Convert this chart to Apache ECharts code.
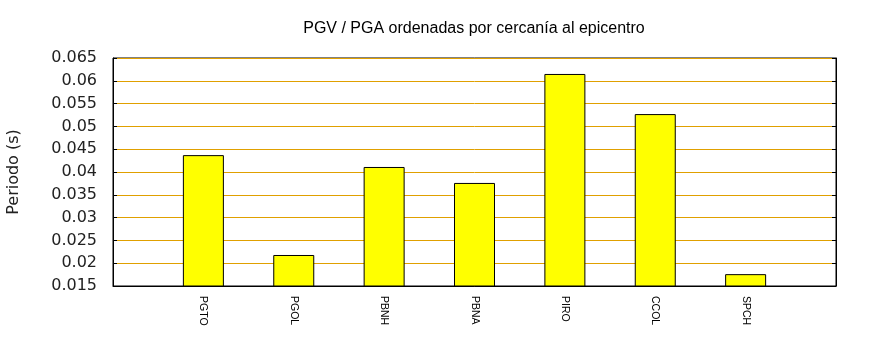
<!DOCTYPE html>
<html>
<head>
<meta charset="utf-8">
<script src="https://cdn.jsdelivr.net/npm/echarts@6/dist/echarts.min.js"></script>
<style>
  html, body { margin: 0; padding: 0; background: #fff; }
  #chart { width: 870px; height: 350px; }
</style>
</head>
<body>
<div id="chart"></div>
<script>
// Stations sorted by distance to the epicentre
const categories = ['PGTO', 'PGOL', 'PBNH', 'PBNA', 'PIRO', 'CCOL', 'SPCH'];
const periods = [0.0437, 0.0218, 0.0411, 0.0376, 0.0615, 0.0527, 0.0176];
const yTicks = [0.015, 0.02, 0.025, 0.03, 0.035, 0.04, 0.045, 0.05, 0.055, 0.06, 0.065];

const chart = echarts.init(document.getElementById('chart'), null, { renderer: 'canvas' });

const yMin = yTicks[0];
const yMax = yTicks[yTicks.length - 1];
const yStep = 0.005;

const fmtY = v => String(parseFloat(v.toFixed(3)));
const gridColor = '#e0a000';

chart.setOption({
  animation: false,
  backgroundColor: '#ffffff',
  title: {
    text: 'PGV / PGA ordenadas por cercanía al epicentro',
    left: 469,
    top: 16,
    textAlign: 'center',
    textStyle: {
      fontFamily: 'Liberation Sans',
      fontSize: 16,
      fontWeight: 'normal',
      color: '#000'
    }
  },
  grid: {
    left: 113,
    right: 34,
    top: 58,
    bottom: 64,
    show: true,
    borderColor: '#000',
    borderWidth: 1,
    containLabel: false,
    outerBoundsMode: 'none'
  },
  xAxis: {
    type: 'value',
    min: -1,
    max: categories.length,
    interval: 1,
    axisLine: { show: true, onZero: false, lineStyle: { color: '#000', width: 1 } },
    axisTick: { show: false },
    splitLine: { show: false },
    axisLabel: {
      rotate: -90,
      margin: 10,
      fontFamily: 'Liberation Sans',
      fontSize: 10.5,
      color: '#000',
      formatter: v => (Number.isInteger(v) && v >= 0 && v < categories.length) ? categories[v] : ''
    }
  },
  yAxis: [
    {
      type: 'value',
      min: yMin,
      max: yMax,
      interval: yStep,
      name: 'Periodo (s)',
      nameLocation: 'middle',
      nameGap: 91,
      nameTextStyle: { fontFamily: 'DejaVu Sans', fontSize: 16, color: '#222' },
      axisLine: { show: true, onZero: false, lineStyle: { color: '#000', width: 1 } },
      axisTick: { show: true, inside: true, length: 4, lineStyle: { color: '#000' } },
      splitLine: { show: true, lineStyle: { color: gridColor, width: 1 } },
      axisLabel: {
        margin: 16,
        fontFamily: 'DejaVu Sans',
        fontSize: 16,
        color: '#222',
        formatter: fmtY
      }
    },
    {
      type: 'value',
      position: 'right',
      min: yMin,
      max: yMax,
      interval: yStep,
      axisLine: { show: true, onZero: false, lineStyle: { color: '#000', width: 1 } },
      axisTick: { show: true, inside: true, length: 4, lineStyle: { color: '#000' } },
      splitLine: { show: false },
      axisLabel: { show: false }
    }
  ],
  series: [{
    type: 'bar',
    yAxisIndex: 0,
    barWidth: 41,
    data: periods.map((v, i) => [i, v]),
    itemStyle: { color: '#ffff00', borderColor: '#000', borderWidth: 1 },
    clip: true
  }]
});
</script>
</body>
</html>
